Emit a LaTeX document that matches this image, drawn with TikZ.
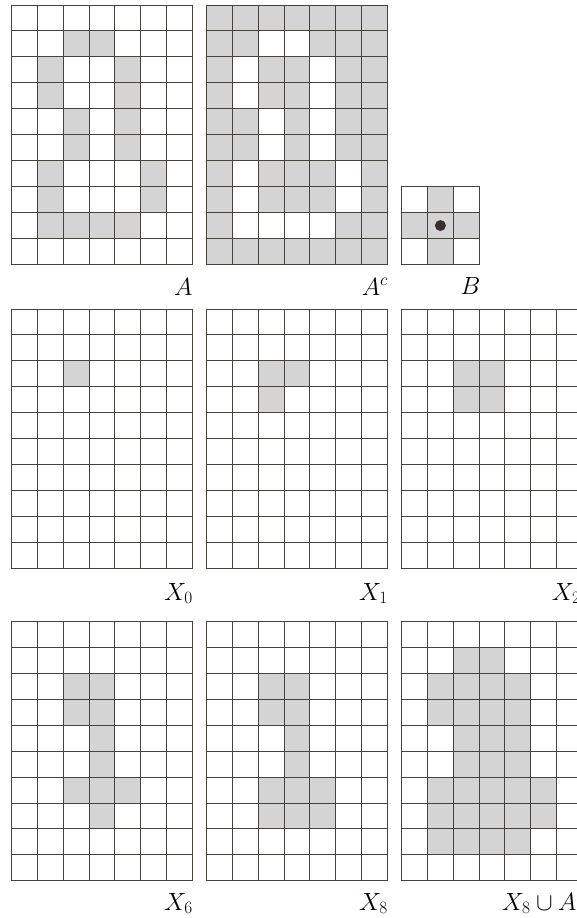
\documentclass[tikz,border=0pt]{standalone}
\definecolor{cellgray}{RGB}{212,212,212}
\definecolor{linecol}{RGB}{70,66,62}
\definecolor{dotcol}{RGB}{55,48,45}
\tikzset{
  gridline/.style={draw=linecol,line width=1pt,line cap=rect},
  lab/.style={font=\fontsize{25}{28}\selectfont,inner sep=0pt,anchor=base east},
  labw/.style={font=\fontsize{25}{28}\selectfont,inner sep=0pt,anchor=base west}
}
\def\cw{25.8}
\def\ch{25.9}
% #1 x0, #2 y0, #3 cols, #4 rows, #5 shaded cells c/r
\newcommand\drawgrid[5]{%
  \foreach \c/\r in {#5} {\fill[cellgray] ({#1+\c*\cw},{#2+\r*\ch}) rectangle ++(\cw,\ch);}
  \foreach \i in {0,...,#3} {\draw[gridline] ({#1+\i*\cw},#2) -- ++(0,{#4*\ch});}
  \foreach \j in {0,...,#4} {\draw[gridline] (#1,{#2+\j*\ch}) -- ++({#3*\cw},0);}
}
\begin{document}
\begin{tikzpicture}[x=1pt,y=-1pt]
\useasboundingbox (0,0) rectangle (577,918);
\clip (0,0) rectangle (577,918);
\fill[white] (0,0) rectangle (577,918);
% A
\drawgrid{11.7}{5}{7}{10}{2/1,3/1,1/2,4/2,1/3,4/3,2/4,4/4,2/5,4/5,1/6,5/6,1/7,5/7,1/8,2/8,3/8,4/8}
\node[lab] (lA) at (192.7,295) {$A$};
% A^c
\fill[cellgray] (206.7,5) rectangle ++({7*\cw},{10*\ch});
\foreach \c/\r in {2/1,3/1,1/2,4/2,1/3,4/3,2/4,4/4,2/5,4/5,1/6,5/6,1/7,5/7,1/8,2/8,3/8,4/8}
  {\fill[white] ({206.7+\c*\cw},{5+\r*\ch}) rectangle ++(\cw,\ch);}
\drawgrid{206.7}{5}{7}{10}{}
\node[lab] (lAc) at (388,295) {$A^c$};
% B
\drawgrid{401.7}{186.7}{3}{3}{1/0,0/1,1/1,2/1,1/2}
\fill[dotcol] ({401.7+1.5*\cw},{186.7+1.5*\ch}) circle (5.5);
\node[lab] (lB) at (480.5,294) {$B$};
% X0, X1, X2
\drawgrid{11.7}{309}{7}{10}{2/2}
\node[lab] (lX0) at (193,600) {$X_0$};
\drawgrid{206.7}{309}{7}{10}{2/2,3/2,2/3}
\node[lab] (lX1) at (388,600) {$X_1$};
\drawgrid{401.7}{309}{7}{10}{2/2,3/2,2/3,3/3}
\node[labw] (lX2) at (551.7,600) {$X_2$};
% X6, X8, X8 u A
\drawgrid{11.7}{621.7}{7}{10}{2/2,3/2,2/3,3/3,3/4,3/5,2/6,3/6,4/6,3/7}
\node[lab] (lX6) at (193,910) {$X_6$};
\drawgrid{206.7}{621.7}{7}{10}{2/2,3/2,2/3,3/3,3/4,3/5,2/6,3/6,4/6,2/7,3/7,4/7}
\node[lab] (lX8) at (388,910) {$X_8$};
\drawgrid{401.7}{621.7}{7}{10}{2/1,3/1,1/2,2/2,3/2,4/2,1/3,2/3,3/3,4/3,2/4,3/4,4/4,2/5,3/5,4/5,1/6,2/6,3/6,4/6,5/6,1/7,2/7,3/7,4/7,5/7,1/8,2/8,3/8,4/8}
\node[labw] (lX8A) at (501.7,910) {$X_8\cup A$};
\end{tikzpicture}
\end{document}
